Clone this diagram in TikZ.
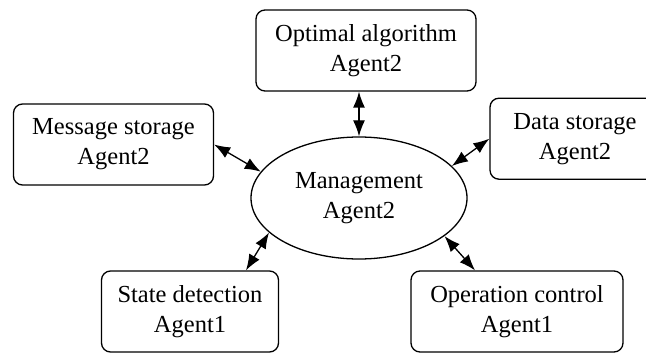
\documentclass[tikz,border=0pt]{standalone}
\usepackage{fontspec}
\setmainfont{Liberation Serif}
\usetikzlibrary{arrows.meta,shapes.geometric}

\tikzset{
  agent/.style={draw, rounded corners=9pt, line width=1.3pt, inner sep=0pt,
    minimum height=81pt, align=center, font=\fontsize{24.5}{30}\selectfont},
  hub/.style={draw, ellipse, line width=1.3pt, inner sep=0pt,
    minimum width=216pt, minimum height=122pt, align=center,
    font=\fontsize{24.5}{30}\selectfont},
  link/.style={line width=1.3pt, {Latex[length=16pt,width=12pt]}-{Latex[length=16pt,width=12pt]}}
}

\begin{document}
\begin{tikzpicture}[x=1pt, y=-1pt]
  \useasboundingbox (0,0) rectangle (646,353);

  % the agents
  \node [hub] (mgmt) at (359,198) {Management\\Agent2};
  \node [agent, minimum width=220pt] (opt) at (366,50.5) {Optimal algorithm\\Agent2};
  \node [agent, minimum width=200pt] (msg) at (113.5,144.5) {Message storage\\Agent2};
  \node [agent, minimum width=170pt] (dat) at (575,138.7) {Data storage\\Agent2};
  \node [agent, minimum width=177pt] (state) at (190,311.5) {State detection\\Agent1};
  \node [agent, minimum width=212pt] (oper) at (517,311.5) {Operation control\\Agent1};

  % links to the management agent
  \draw [link] (opt.south -| mgmt.north) -- (mgmt.north);
  \draw [link] (msg.east) -- (mgmt.165);
  \draw [link] (dat.west) -- (mgmt.19);
  \draw [link] ([xshift=56pt]state.north) -- (mgmt.201);
  \draw [link] ([xshift=-42pt]oper.north) -- (mgmt.336);
\end{tikzpicture}
\end{document}
